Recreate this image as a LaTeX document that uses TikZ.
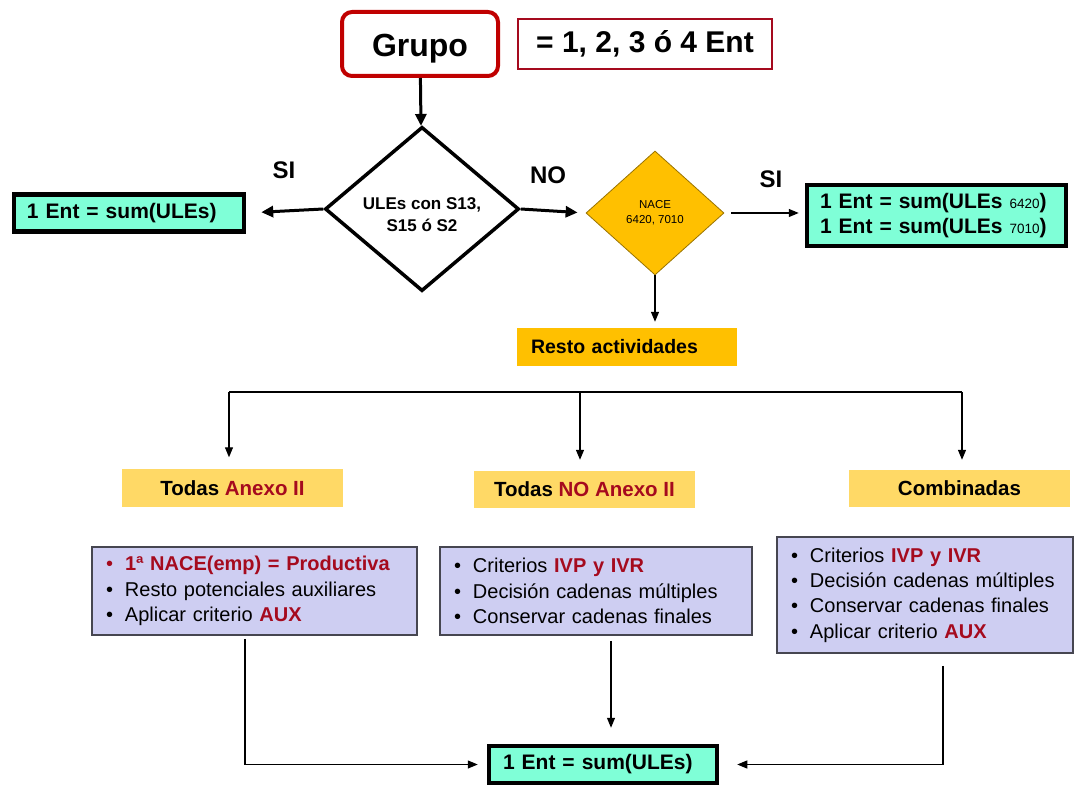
\documentclass[tikz,border=0pt]{standalone}
\usepackage{fontspec}
\setmainfont{Liberation Sans}
\usetikzlibrary{shapes.geometric,arrows.meta}
\definecolor{rojo}{RGB}{192,0,0}
\definecolor{granate}{RGB}{165,10,30}
\definecolor{aguamarina}{RGB}{127,255,215}
\definecolor{ambar}{RGB}{255,192,0}
\definecolor{oro}{RGB}{255,217,102}
\definecolor{lavanda}{RGB}{206,206,242}
\definecolor{gris}{RGB}{70,70,80}
\newcommand\vineta{\makebox[19pt][l]{\textbullet}}
\newcommand\peq[1]{{\fontsize{13.5}{13.5}\selectfont\mdseries #1}}

\begin{document}
\begin{tikzpicture}[x=1pt,y=-1pt,
  >={Triangle[length=10pt,width=8pt]},
  gruesa/.style={line width=3pt,->,>={Triangle[length=12pt,width=11pt]}},
  fina/.style={line width=1.2pt,->},
  caja/.style={draw=black,line width=4.5pt,fill=aguamarina,inner sep=0pt,inner xsep=13pt,
    align=left,font=\fontsize{21}{25}\selectfont\bfseries},
  lila/.style={draw=gris,line width=1.5pt,fill=lavanda,inner sep=0pt,inner xsep=14pt,
    align=left,font=\fontsize{20}{25.3}\selectfont},
  amarilla/.style={fill=oro,minimum width=221,minimum height=37,inner sep=0pt,
    font=\fontsize{20.5}{22}\selectfont\bfseries},
  etiq/.style={font=\fontsize{24}{24}\selectfont\bfseries}]
\useasboundingbox (0,0) rectangle (1074,799);
% cabecera
\node[draw=rojo,line width=4pt,rounded corners=10pt,minimum width=156,minimum height=64,
  text height=26pt,text depth=0pt,
  font=\fontsize{32}{32}\selectfont\bfseries] (grupo) at (420,44) {Grupo};
\node[draw=granate,line width=2pt,minimum width=254,minimum height=50,
  font=\fontsize{30}{30}\selectfont\bfseries] (igual) at (645,44) {= 1, 2, 3 ó 4 Ent};
% decisiones
\node[diamond,draw=black,line width=3.5pt,fill=white,inner sep=0pt,minimum width=194,
  minimum height=159,align=center,font=\fontsize{17}{22}\selectfont\bfseries] (ules) at (422,209)
  {\rule{0pt}{24pt}ULEs con S13,\\S15 ó S2};
\node[diamond,draw=ambar!60!black,line width=0.8pt,fill=ambar,inner sep=0pt,minimum width=138,
  minimum height=124,align=center,font=\fontsize{11.5}{15}\selectfont] (nace) at (655,213)
  {NACE\\6420, 7010};
\node[caja,minimum width=230,minimum height=37,text width=204] (ent1) at (129,213)
  {1 Ent = sum(ULEs)};
\node[caja,minimum width=259,minimum height=61,text width=233] (ent2) at (936.5,215.5)
  {1 Ent = sum(ULEs \peq{6420})\\1 Ent = sum(ULEs \peq{7010})};
\node[etiq] (si1) at (284,170) {SI};
\node[etiq] (no) at (548,175) {NO};
\node[etiq] (si2) at (771,179) {SI};
\node[fill=ambar,minimum width=220,minimum height=38,inner sep=0pt,inner xsep=14pt,
  text width=192,align=left,font=\fontsize{19.5}{22}\selectfont\bfseries] (resto) at (627,347)
  {Resto actividades};
\path[draw,gruesa] (grupo) -- (ules);
\path[draw,gruesa,shorten >=15pt] (ules.west) -- (ent1.east);
\path[draw,gruesa,shorten >=8pt] (ules.east) -- (nace.west);
\path[draw,fina,shorten <=7pt,shorten >=6pt] (nace.east) -- (nace.east -| ent2.west);
\path[draw,fina,shorten >=6pt] (nace.south) -- (resto.north -| nace.south);
% ramas
\node[amarilla] (todasA) at (232.5,488) {Todas \textcolor{granate}{Anexo II}};
\node[amarilla] (todasB) at (584.5,489.5) {Todas \textcolor{granate}{NO Anexo II}};
\node[amarilla] (comb) at (959.5,488.5) {Combinadas};
\coordinate (ramaA) at (229,392);
\coordinate (ramaB) at (580,392);
\coordinate (ramaC) at (962,392);
\path[draw,line width=1.2pt] (ramaA) -- (ramaC);
\path[draw,fina,shorten >=12pt] (ramaA) -- (ramaA |- todasA.north);
\path[draw,fina,shorten >=11pt] (ramaB) -- (ramaB |- todasB.north);
\path[draw,fina,shorten >=10pt] (ramaC) -- (ramaC |- comb.north);
% criterios
\node[lila,minimum width=325,minimum height=88,text width=297] (la) at (254.5,591)
  {\textcolor{granate}{\vineta\textbf{1ª NACE(emp) = Productiva}}\\
   \vineta Resto potenciales auxiliares\\
   \vineta Aplicar criterio \textbf{\textcolor{granate}{AUX}}};
\node[lila,minimum width=312,minimum height=88,text width=284] (lb) at (596,591)
  {\vineta Criterios \textbf{\textcolor{granate}{IVP y IVR}}\\
   \vineta Decisión cadenas múltiples\\
   \vineta Conservar cadenas finales};
\node[lila,minimum width=296,minimum height=116,text width=268] (lc) at (925,595)
  {\vineta Criterios \textbf{\textcolor{granate}{IVP y IVR}}\\
   \vineta Decisión cadenas múltiples\\
   \vineta Conservar cadenas finales\\
   \vineta Aplicar criterio \textbf{\textcolor{granate}{AUX}}};
\node[caja,minimum width=228,minimum height=37,text width=200] (fin) at (603,764.5)
  {1 Ent = sum(ULEs)};
\path[draw,fina,shorten <=3pt,shorten >=9pt] ([xshift=-9.5pt]la.south) |- (fin.west);
\path[draw,fina,shorten <=5pt,shorten >=16pt] ([xshift=15pt]lb.south) -- ([xshift=8pt]fin.north);
\path[draw,fina,shorten <=12pt,shorten >=18pt] ([xshift=18pt]lc.south) |- (fin.east);
\end{tikzpicture}
\end{document}
